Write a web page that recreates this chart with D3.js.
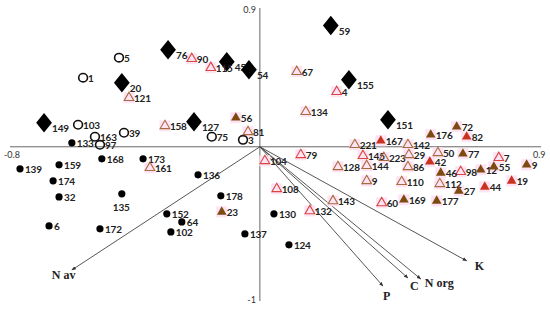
<!DOCTYPE html>
<html>
<head>
<meta charset="utf-8">
<script src="https://cdn.jsdelivr.net/npm/d3@7"></script>
<style>
  body { margin: 0; background: #fff; }
  svg { display: block; }
</style>
</head>
<body>
<div id="chart"></div>
<script>
//ordination scores: [label, axis1, axis2]
const diamonds = [
  ["59", 0.227, 0.786], ["76", -0.294, 0.630], ["45", -0.106, 0.552],
  ["54", -0.035, 0.500], ["20", -0.442, 0.416], ["155", 0.285, 0.435],
  ["149", -0.691, 0.156], ["127", -0.211, 0.162], ["151", 0.410, 0.175]
];

const openCircles = [
  ["5", -0.451, 0.578], ["1", -0.566, 0.448], ["103", -0.582, 0.143],
  ["163", -0.528, 0.065], ["39", -0.435, 0.091], ["97", -0.512, 0.013],
  ["75", -0.154, 0.065], ["3", -0.054, 0.045]
];

const blackDots = [
  ["133", -0.602, 0.026], ["139", -0.768, -0.143], ["159", -0.643, -0.117],
  ["168", -0.506, -0.078], ["173", -0.374, -0.078], ["136", -0.198, -0.182],
  ["174", -0.662, -0.221], ["32", -0.643, -0.325], ["135", -0.442, -0.305],
  ["178", -0.125, -0.318], ["152", -0.298, -0.435], ["64", -0.250, -0.487],
  ["102", -0.285, -0.552], ["6", -0.675, -0.513], ["172", -0.512, -0.532],
  ["137", -0.048, -0.565], ["130", 0.045, -0.435], ["124", 0.093, -0.636]
];

//open triangles, last field = subgroup (1 = red outline, 2 = brown outline)
const openTriangles = [
  ["90", -0.218, 0.571, 1], ["115", -0.157, 0.513, 1], ["121", -0.419, 0.318, 2],
  ["158", -0.304, 0.136, 2], ["81", -0.038, 0.097, 2], ["67", 0.118, 0.487, 2],
  ["4", 0.246, 0.357, 1], ["134", 0.147, 0.227, 2], ["221", 0.304, 0.013, 2],
  ["142", 0.474, 0.013, 2], ["161", -0.352, -0.136, 2], ["104", 0.016, -0.091, 1],
  ["79", 0.131, -0.052, 1], ["145", 0.330, -0.058, 1], ["223", 0.397, -0.071, 2],
  ["29", 0.477, -0.052, 2], ["50", 0.570, -0.039, 2], ["7", 0.765, -0.071, 1],
  ["128", 0.250, -0.130, 2], ["144", 0.342, -0.123, 2], ["86", 0.474, -0.130, 2],
  ["98", 0.643, -0.162, 1], ["9", 0.342, -0.221, 2], ["110", 0.454, -0.227, 2],
  ["112", 0.576, -0.240, 2], ["108", 0.054, -0.273, 1], ["143", 0.234, -0.351, 2],
  ["60", 0.390, -0.364, 1], ["132", 0.160, -0.416, 1]
];

//filled triangles, last field = subgroup (1 = red, 2 = brown)
const filledTriangles = [
  ["56", -0.077, 0.188, 2], ["167", 0.387, 0.039, 1], ["176", 0.547, 0.078, 2],
  ["72", 0.630, 0.130, 2], ["82", 0.662, 0.065, 1], ["77", 0.650, -0.045, 2],
  ["42", 0.544, -0.097, 1], ["46", 0.579, -0.169, 2], ["12", 0.707, -0.149, 2],
  ["55", 0.749, -0.130, 2], ["9", 0.854, -0.117, 2], ["27", 0.637, -0.286, 2],
  ["44", 0.720, -0.260, 1], ["19", 0.806, -0.221, 1], ["169", 0.461, -0.344, 2],
  ["177", 0.566, -0.351, 2], ["23", -0.122, -0.422, 2]
];

//environmental vectors
const vectorNames = ["N av", "P", "C", "N org", "K"];
const vectorX = [-0.602, 0.394, 0.474, 0.515, 0.662];
const vectorY = [-0.799, -0.903, -0.851, -0.857, -0.740];

//axis extent labels
const xDomain = [-0.8, 0.9];
const yDomain = [-1, 0.9];

const W = 550, H = 309;
const svg = d3.select('#chart').append('svg').attr('width', W).attr('height', H);

const x = d3.scaleLinear().domain(xDomain).range([10, 541]);
const y = d3.scaleLinear().domain(yDomain).range([301, 8]);

const redCol = { 1: '#d9453f', 2: '#a86a3e' };
const fillCol = { 1: '#c8321f', 2: '#7d4a0f' };
const labelFont = 'Lato, "Open Sans", sans-serif';

//axes through the origin
svg.append('line').attr('x1', x(xDomain[0])).attr('x2', x(xDomain[1]))
  .attr('y1', y(0)).attr('y2', y(0)).attr('stroke', '#666').attr('stroke-width', 1);
svg.append('line').attr('x1', x(0)).attr('x2', x(0))
  .attr('y1', y(yDomain[1])).attr('y2', y(yDomain[0])).attr('stroke', '#666').attr('stroke-width', 1);

const tickStyle = s => s.attr('font-family', 'Lato, sans-serif').attr('font-size', 9).attr('fill', '#333');
svg.append('text').attr('x', x(0) - 4).attr('y', y(yDomain[1]) + 5).attr('text-anchor', 'end').text(String(yDomain[1])).call(tickStyle);
svg.append('text').attr('x', x(0) - 4).attr('y', y(yDomain[0]) + 2).attr('text-anchor', 'end').text(String(yDomain[0])).call(tickStyle);
svg.append('text').attr('x', x(xDomain[0]) - 6).attr('y', y(0) + 11).text(String(xDomain[0])).call(tickStyle);
svg.append('text').attr('x', x(xDomain[1]) - 8).attr('y', y(0) + 11).text(String(xDomain[1])).call(tickStyle);

//arrowhead marker
svg.append('defs').append('marker')
  .attr('id', 'arr').attr('viewBox', '0 0 10 10').attr('refX', 9).attr('refY', 5)
  .attr('markerWidth', 5).attr('markerHeight', 5).attr('orient', 'auto')
  .append('path').attr('d', 'M0,1 L10,5 L0,9 Z').attr('fill', '#333');

//vectors
const vecG = svg.append('g');
vectorNames.forEach(function(name, i) {
  vecG.append('line')
    .attr('x1', x(0)).attr('y1', y(0))
    .attr('x2', x(vectorX[i])).attr('y2', y(vectorY[i]))
    .attr('stroke', '#444').attr('stroke-width', 0.9)
    .attr('marker-end', 'url(#arr)');
});
const vecLabelOff = { "N av": [-20, 9], "P": [0, 14], "C": [2, 12], "N org": [4, 8], "K": [8, 9] };
vectorNames.forEach(function(name, i) {
  vecG.append('text')
    .attr('x', x(vectorX[i]) + vecLabelOff[name][0])
    .attr('y', y(vectorY[i]) + vecLabelOff[name][1])
    .attr('font-family', '"Liberation Serif", "Times New Roman", serif')
    .attr('font-weight', 'bold').attr('font-size', 12).attr('fill', '#222')
    .text(name);
});

//faint pink highlights behind triangles
const hl = svg.append('g');
openTriangles.concat(filledTriangles).forEach(function(d) {
  hl.append('rect').attr('x', x(d[1]) - 5.5).attr('y', y(d[2]) - 5.5)
    .attr('width', 11).attr('height', 11).attr('fill', '#fde3f4');
});

const tri = d3.symbol().type(d3.symbolTriangle).size(40);
const pts = svg.append('g');

function label(px, py, txt, dx, dy) {
  pts.append('text').attr('x', px + dx).attr('y', py + dy)
    .attr('font-family', labelFont).attr('font-weight', 'bold')
    .attr('font-size', 10).attr('letter-spacing', -0.2).attr('fill', '#222').text(txt);
}

//diamonds
diamonds.forEach(function(d) {
  const px = x(d[1]), py = y(d[2]);
  pts.append('path').attr('d', d3.symbol().type(d3.symbolDiamond).size(110)())
    .attr('transform', `translate(${px},${py}) scale(1.4,1)`).attr('fill', '#000');
  label(px, py, d[0], 8, 9);
});

//open circles (drawn as O letters)
openCircles.forEach(function(d) {
  const px = x(d[1]), py = y(d[2]);
  pts.append('ellipse').attr('cx', px).attr('cy', py).attr('rx', 4.4).attr('ry', 4.2)
    .attr('fill', 'none').attr('stroke', '#111').attr('stroke-width', 1.6);
  label(px, py, d[0], 5, 4);
});

//black dots
blackDots.forEach(function(d) {
  const px = x(d[1]), py = y(d[2]);
  pts.append('circle').attr('cx', px).attr('cy', py).attr('r', 3.6).attr('fill', '#000');
  if (d[0] === '135') label(px - 9, py, d[0], 0, 17);
  else label(px, py, d[0], 5, 4);
});

//open triangles
openTriangles.forEach(function(d) {
  const px = x(d[1]), py = y(d[2]);
  pts.append('path').attr('d', tri()).attr('transform', `translate(${px},${py})`)
    .attr('fill', 'none').attr('stroke', redCol[d[3]]).attr('stroke-width', 1.1);
  label(px, py, d[0], 5, 4);
});

//filled triangles
filledTriangles.forEach(function(d) {
  const px = x(d[1]), py = y(d[2]);
  pts.append('path').attr('d', tri()).attr('transform', `translate(${px},${py})`)
    .attr('fill', fillCol[d[3]]);
  label(px, py, d[0], 5, 4);
});
</script>
</body>
</html>
